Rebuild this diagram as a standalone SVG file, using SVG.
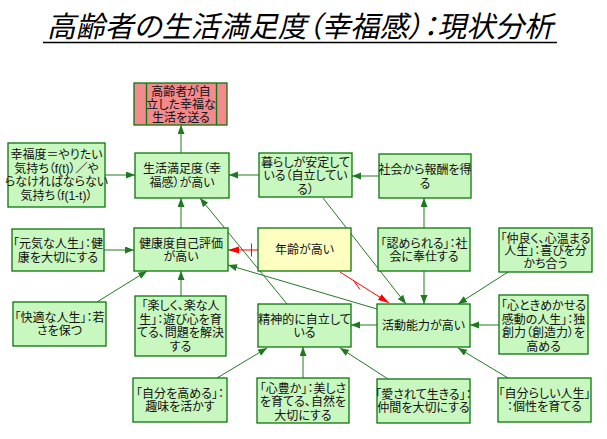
<svg xmlns="http://www.w3.org/2000/svg" width="607" height="439" viewBox="0 0 607 439">
<style>
.b{fill:#c8f7c0;stroke:#0b760b;stroke-width:1.3}
.y{fill:#ffffc2;stroke:#0b760b;stroke-width:1.3}
.p{fill:#f28a8e;stroke:#0b760b;stroke-width:1.3}
text{font-family:"Liberation Sans","Noto Sans CJK JP","Noto Sans CJK SC",sans-serif;font-size:12px;fill:#111;text-anchor:middle;dominant-baseline:central;font-feature-settings:"palt"}
.c line{stroke:#237a23;stroke-width:1;fill:none}
.c .r{stroke:#ff0000}
</style>
<defs>
<marker id="a" markerUnits="userSpaceOnUse" markerWidth="10" markerHeight="8" refX="9" refY="3.5" orient="auto"><path d="M0,0 L9,3.5 L0,7 z" fill="#1f7a1f"/></marker>
<marker id="ar" markerUnits="userSpaceOnUse" markerWidth="12" markerHeight="8" refX="11" refY="3.5" orient="auto"><path d="M0,0 L11,3.5 L0,7 z" fill="#ff0000"/></marker>
</defs>
<g id="title">
<text transform="translate(300,37) skewX(-13)" style="font-size:29px;dominant-baseline:auto;fill:#000;font-family:'Noto Sans CJK JP',sans-serif">高齢者の生活満足度（幸福感）：現状分析</text>
<line x1="43" y1="42.5" x2="557" y2="42.5" stroke="#000" stroke-width="1.5"/>
</g>
<g class="c" id="connectors">
<line x1="181" y1="153" x2="181" y2="125" marker-end="url(#a)"/>
<line x1="105" y1="175" x2="135" y2="175" marker-end="url(#a)"/>
<line x1="259" y1="175" x2="229" y2="175" marker-end="url(#a)"/>
<line x1="379" y1="176" x2="352" y2="176" marker-end="url(#a)"/>
<line x1="181" y1="228" x2="181" y2="198" marker-end="url(#a)"/>
<line x1="104" y1="250" x2="134" y2="250" marker-end="url(#a)"/>
<line x1="424" y1="228" x2="424" y2="198" marker-end="url(#a)"/>
<line x1="424" y1="271" x2="424" y2="304" marker-end="url(#a)"/>
<line x1="508" y1="272" x2="458" y2="304" marker-end="url(#a)"/>
<line x1="323" y1="198" x2="406" y2="304" marker-end="url(#a)"/>
<line x1="287" y1="304" x2="200" y2="198" marker-end="url(#a)"/>
<line x1="377" y1="309" x2="228" y2="265" marker-end="url(#a)"/>
<line x1="97" y1="302" x2="147" y2="271" marker-end="url(#a)"/>
<line x1="181" y1="296" x2="181" y2="271" marker-end="url(#a)"/>
<line x1="499" y1="325" x2="470" y2="325" marker-end="url(#a)"/>
<line x1="377" y1="325" x2="351" y2="325" marker-end="url(#a)"/>
<line x1="217" y1="378" x2="267" y2="348" marker-end="url(#a)"/>
<line x1="303" y1="378" x2="303" y2="347" marker-end="url(#a)"/>
<line x1="388" y1="379" x2="340" y2="348" marker-end="url(#a)"/>
<line x1="508" y1="378" x2="458" y2="348" marker-end="url(#a)"/>
<line class="r" x1="258" y1="250" x2="228" y2="250" marker-end="url(#ar)"/>
<line class="r" x1="251.5" y1="243.5" x2="251.5" y2="256.5"/>
<line class="r" x1="340" y1="272" x2="389" y2="303" marker-end="url(#ar)"/>
<line class="r" x1="353.5" y1="280.5" x2="360" y2="289.5"/>
</g>
<g id="n_goal">
<rect class="p" x="134" y="83" width="93" height="42"/>
<line x1="146.5" y1="83" x2="146.5" y2="125" stroke="#0b760b" stroke-width="1.3"/>
<line x1="216.5" y1="83" x2="216.5" y2="125" stroke="#0b760b" stroke-width="1.3"/>
<text x="181" y="92">高齢者が自</text><text x="181" y="104.5">立した幸福な</text><text x="181" y="117.5">生活を送る</text>
</g>
<g id="n_satisfaction">
<rect class="b" x="135" y="153" width="94" height="45"/>
<text x="182" y="168.5">生活満足度（幸</text><text x="182" y="182.5">福感）が高い</text>
</g>
<g id="n_happiness">
<rect class="b" x="8" y="143" width="97" height="64"/>
<text x="56.5" y="155">幸福度＝やりたい</text><text x="56.5" y="168.5">気持ち（f(t)）／や</text><text x="56.5" y="182">らなければならない</text><text x="56.5" y="195.5">気持ち（f(1-t)）</text>
</g>
<g id="n_stable">
<rect class="b" x="259" y="153" width="93" height="44"/>
<text x="305.5" y="162.5">暮らしが安定して</text><text x="305.5" y="176">いる（自立してい</text><text x="305.5" y="189.5">る）</text>
</g>
<g id="n_reward">
<rect class="b" x="379" y="154" width="92" height="44"/>
<text x="425" y="170">社会から報酬を得</text><text x="425" y="183.5">る</text>
</g>
<g id="n_age">
<rect class="y" x="258" y="228" width="93" height="43"/>
<text x="304.5" y="249.5">年齢が高い</text>
</g>
<g id="n_recognized">
<rect class="b" x="378" y="228" width="92" height="43"/>
<text x="424" y="243.5">「認められる」：社</text><text x="424" y="257">会に奉仕する</text>
</g>
<g id="n_friendly">
<rect class="b" x="499" y="228" width="93" height="44"/>
<text x="545.5" y="238.5">「仲良く、心温まる</text><text x="545.5" y="251">人生」：喜びを分</text><text x="545.5" y="263.5">かち合う</text>
</g>
<g id="n_health">
<rect class="b" x="134" y="228" width="94" height="43"/>
<text x="181" y="243.5">健康度自己評価</text><text x="181" y="257">が高い</text>
</g>
<g id="n_genki">
<rect class="b" x="12" y="229" width="92" height="42"/>
<text x="58" y="244">「元気な人生」：健</text><text x="58" y="257.5">康を大切にする</text>
</g>
<g id="n_comfort">
<rect class="b" x="13" y="302" width="93" height="44"/>
<text x="59.5" y="318">「快適な人生」：若</text><text x="59.5" y="331">さを保つ</text>
</g>
<g id="n_fun">
<rect class="b" x="135" y="296" width="91" height="60"/>
<text x="180.5" y="305.5">「楽しく、楽な人</text><text x="180.5" y="319.5">生」：遊び心を育</text><text x="180.5" y="333">てる、問題を解決</text><text x="180.5" y="346.5">する</text>
</g>
<g id="n_mental">
<rect class="b" x="258" y="304" width="93" height="43"/>
<text x="304.5" y="319.5">精神的に自立して</text><text x="304.5" y="333">いる</text>
</g>
<g id="n_activity">
<rect class="b" x="377" y="304" width="93" height="43"/>
<text x="423.5" y="326">活動能力が高い</text>
</g>
<g id="n_creative">
<rect class="b" x="499" y="295" width="89" height="59"/>
<text x="543.5" y="305.5">「心ときめかせる</text><text x="543.5" y="319.5">感動の人生」：独</text><text x="543.5" y="333">創力（創造力）を</text><text x="543.5" y="346.5">高める</text>
</g>
<g id="n_self">
<rect class="b" x="133" y="378" width="94" height="44"/>
<text x="180" y="394">「自分を高める」：</text><text x="180" y="407">趣味を活かす</text>
</g>
<g id="n_rich">
<rect class="b" x="257" y="378" width="92" height="45"/>
<text x="303" y="388.5">「心豊か」：美しさ</text><text x="303" y="402">を育てる、自然を</text><text x="303" y="415.5">大切にする</text>
</g>
<g id="n_loved">
<rect class="b" x="377" y="379" width="93" height="44"/>
<text x="423.5" y="395">「愛されて生きる」：</text><text x="423.5" y="408">仲間を大切にする</text>
</g>
<g id="n_own">
<rect class="b" x="498" y="378" width="93" height="44"/>
<text x="544.5" y="394">「自分らしい人生」</text><text x="544.5" y="407">：個性を育てる</text>
</g>
</svg>
